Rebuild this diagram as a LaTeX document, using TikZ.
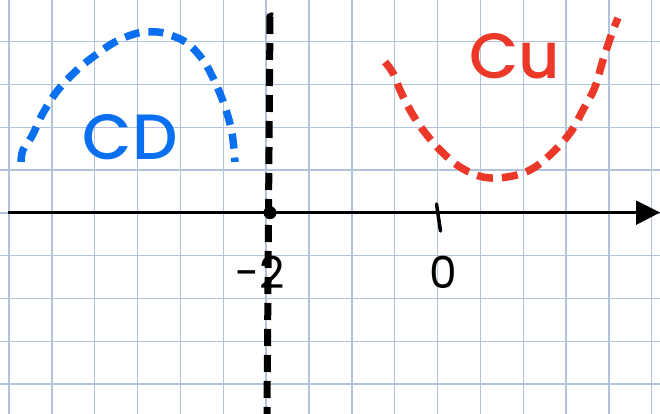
\documentclass[tikz,border=0pt]{standalone}
\usepackage{fontspec}
\setmainfont{Poppins}
\newfontfamily\handmed{Poppins Medium}
\definecolor{gridc}{RGB}{178,194,220}
\definecolor{cdblue}{RGB}{10,112,240}
\definecolor{cured}{RGB}{236,56,40}
\begin{document}
\begin{tikzpicture}[x=1pt,y=-1pt,
  gridline/.style={gridc,line width=1.4pt},
  axisline/.style={black,line width=3pt},
  asymp/.style={black,line width=7pt,dash pattern=on 17pt off 9pt},
  cdcurve/.style={cdblue,line width=7.5pt,dash pattern=on 15pt off 9pt},
  cucurve/.style={cured,line width=7.5pt,dash pattern=on 16pt off 9pt},
  biglabel/.style={font=\fontsize{64}{64}\selectfont\handmed,inner sep=0pt},
  numlabel/.style={font=\fontsize{44}{44}\selectfont,inner sep=0pt,text=black}]
\useasboundingbox (0,0) rectangle (660,414);
\fill[white] (0,0) rectangle (660,414);
% grid
\foreach \k in {0,...,15} \draw[gridline] ({9+42.85*\k},0) -- ({9+42.85*\k},414);
\foreach \k in {1,...,9} \draw[gridline] (0,{-1.1+42.8*\k}) -- (660,{-1.1+42.8*\k});
% axis
\coordinate (axL) at (8,212.5);
\coordinate (axR) at (640,212.5);
\draw[axisline] (axL) -- (axR);
\fill[black] (636,200.5) -- (660,212.5) -- (636,225) -- cycle;
% tick at 0
\coordinate (tA) at (436.5,204);
\coordinate (tB) at (440.5,231);
\draw[black,line width=3.5pt,line cap=round] (tA) -- (tB);
% vertical asymptote
\coordinate (vT) at (270,17);
\coordinate (vB) at (267,414);
\draw[asymp] (vT) -- (vB);
\draw[black,line width=5pt] (268.5,18) arc (180:60:3pt);
\fill[black] (270,212.7) circle (6.5pt);
% CD curve
\draw[cdcurve] plot[smooth,tension=0.6] coordinates {(21,162) (23,150) (32,136) (43,113) (58,90) (77,70) (93,57) (115,42) (138,33) (157,32) (170,35) (187,43) (203,60) (215,82) (225,107) (232,133) (235,162)};
% CU curve
\draw[cucurve] plot[smooth,tension=0.6] coordinates {(385,62) (393,73) (400,90) (410,110) (423,130) (440,150) (460,167) (483,177) (507,177) (530,170) (550,155) (570,133) (583,110) (595,87) (603,60) (612,33) (618,18)};
% labels
\node[biglabel,text=cdblue] (cd) at (130,137) {CD};
\node[biglabel,text=cured] (cu) at (515,56) {Cu};
\node[numlabel] (m2) at (260,272) {-2};
\node[numlabel] (z0) at (443,272) {0};
\end{tikzpicture}
\end{document}
